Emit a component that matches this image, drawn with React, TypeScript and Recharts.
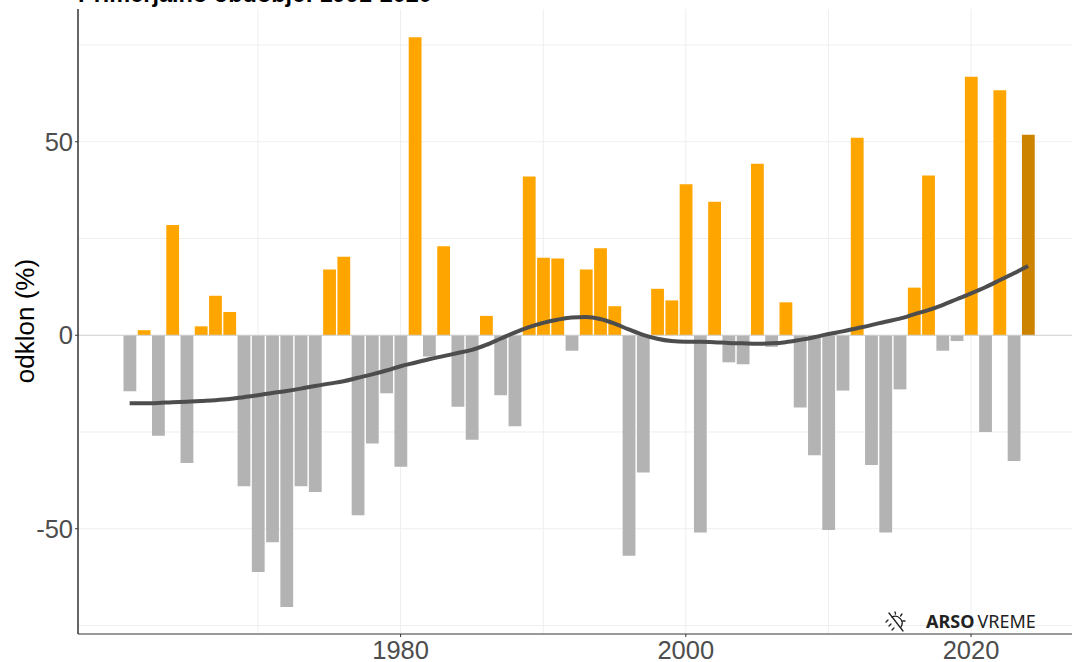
import {
  ComposedChart,
  Bar,
  Line,
  Cell,
  XAxis,
  YAxis,
  CartesianGrid,
  ReferenceLine,
} from "recharts";

const YEARS = [
  1961, 1962, 1963, 1964, 1965, 1966, 1967, 1968, 1969, 1970, 1971, 1972, 1973, 1974, 1975, 1976,
  1977, 1978, 1979, 1980, 1981, 1982, 1983, 1984, 1985, 1986, 1987, 1988, 1989, 1990, 1991, 1992,
  1993, 1994, 1995, 1996, 1997, 1998, 1999, 2000, 2001, 2002, 2003, 2004, 2005, 2006, 2007, 2008,
  2009, 2010, 2011, 2012, 2013, 2014, 2015, 2016, 2017, 2018, 2019, 2020, 2021, 2022, 2023, 2024,
];

const ODKLON = [
  -14.5, 1.3, -26, 28.5, -33, 2.3, 10.2, 6, -39, -61.2, -53.5, -70.2, -39, -40.5, 17, 20.3,
  -46.5, -28, -15, -34, 77, -5.5, 23, -18.5, -27, 5, -15.5, -23.5, 41, 20, 19.8, -4,
  17, 22.5, 7.5, -57, -35.5, 12, 9, 39, -51, 34.5, -7, -7.5, 44.3, -3,
  8.5, -18.7, -31, -50.3, -14.3, 51, -33.5, -51, -14, 12.3, 41.3, -4, -1.5, 66.8, -25, 63.3,
  -32.5, 51.8,
];

const TREND = [
  -17.6, -17.6, -17.5, -17.3, -17.2, -17.0, -16.8, -16.5, -16.0, -15.5, -14.9, -14.4, -13.8, -13.1, -12.5, -11.9,
  -11.0, -10.1, -9.1, -8.0, -7.1, -6.2, -5.4, -4.6, -3.8, -2.5, -0.9, 0.7, 2.1, 3.2, 4.0, 4.6,
  4.7, 4.2, 3.0, 1.5, 0.1, -0.9, -1.5, -1.7, -1.7, -1.8, -2.0, -2.1, -2.2, -2.1, -1.8, -1.2,
  -0.5, 0.3, 1.0, 1.8, 2.6, 3.5, 4.3, 5.4, 6.5, 7.8, 9.3, 10.8, 12.4, 14.2, 16.0, 17.9,
];

const X_TICKS = [1980, 2000, 2020];
const X_GRID = [1970, 1980, 1990, 2000, 2010, 2020];
const Y_TICKS = [-50, 0, 50];
const Y_GRID = [-75, -50, -25, 25, 50, 75];

const data = YEARS.map((leto, i) => ({ leto, odklon: ODKLON[i], trend: TREND[i] }));

const barColor = (d: { leto: number; odklon: number }) => {
  if (d.leto === 2024) return "#cc8400";
  return d.odklon > 0 ? "#ffa500" : "#b3b3b3";
};

const FONT = '"Liberation Sans", Arial, sans-serif';

export default function App() {
  return (
    <div style={{ position: "absolute", left: 0, top: 0, width: 1072, height: 662, background: "#fff" }}>
      <ComposedChart
        width={1072}
        height={662}
        data={data}
        margin={{ top: 9, right: 0, bottom: 0, left: 0 }}
      >
        <CartesianGrid
          stroke="#eeeeee"
          strokeWidth={1}
          horizontalValues={Y_GRID}
          verticalValues={X_GRID}
        />
        <XAxis
          dataKey="leto"
          type="number"
          domain={[1957.38, 2027.08]}
          ticks={X_TICKS}
          height={28}
          tickSize={3}
          tickMargin={4}
          stroke="#999999"
          strokeWidth={2}
          allowDataOverflow
          tick={{ fontSize: 25.5, fill: "#4d4d4d", fontFamily: FONT }}
          tickLine={{ stroke: "#333333", strokeWidth: 1 }}
        />
        <YAxis
          type="number"
          domain={[-77.2, 84.3]}
          ticks={Y_TICKS}
          width={78}
          tickSize={3}
          tickMargin={2}
          stroke="#333333"
          strokeWidth={1.5}
          allowDataOverflow
          tick={{ fontSize: 25.5, fill: "#4d4d4d", fontFamily: FONT }}
          tickLine={{ stroke: "#333333", strokeWidth: 1 }}
        />
        <ReferenceLine y={0} stroke="#cccccc" strokeWidth={1} />
        <Bar dataKey="odklon" barSize={12.8} isAnimationActive={false}>
          {data.map((d) => (
            <Cell key={d.leto} fill={barColor(d)} />
          ))}
        </Bar>
        <Line
          dataKey="trend"
          type="monotone"
          stroke="#4d4d4d"
          strokeWidth={4}
          dot={false}
          activeDot={false}
          isAnimationActive={false}
        />
        <text x={78} y={1.5} fontSize={23.5} fontWeight={700} fontFamily={FONT} fill="#000000">
          Primerjalno obdobje: 1991-2020
        </text>
        <text
          x={25}
          y={321}
          fontSize={26}
          fontFamily={FONT}
          fill="#000000"
          textAnchor="middle"
          dominantBaseline="central"
          transform="rotate(-90 25 321)"
        >
          odklon (%)
        </text>
        <text x={926} y={628} fontSize={18} fontFamily='"Noto Sans", sans-serif' fill="#222222">
          <tspan fontWeight={700}>ARSO</tspan>
          <tspan dx={3}>VREME</tspan>
        </text>
        <g stroke="#222222" strokeWidth={1.3} fill="none" strokeLinecap="round">
          <path d="M892 617 A7 7 0 0 1 901 627" />
          <path d="M889 613 L903 631" />
          <path d="M895 612 L895.5 614 M902 614 L900.5 616 M905 621 L902.5 621" />
          <path d="M886 622 L888 620 M889 626 L891 624 M892 630 L894 628" />
        </g>
      </ComposedChart>
    </div>
  );
}
